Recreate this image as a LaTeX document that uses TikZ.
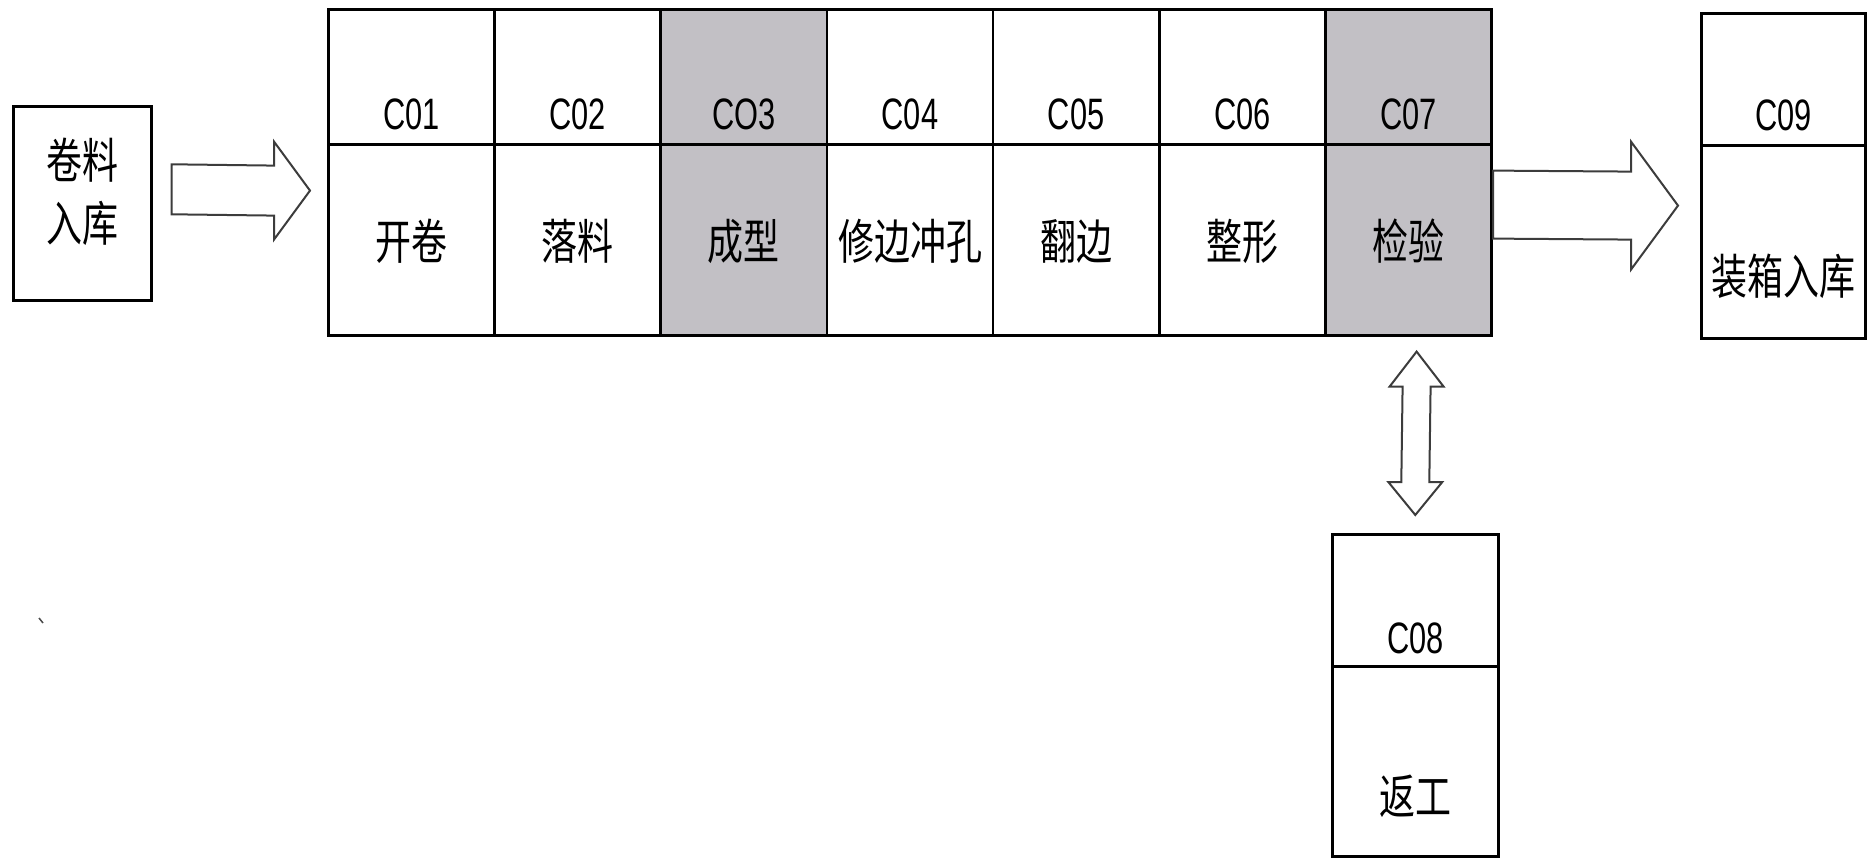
\documentclass[tikz,border=0pt]{standalone}
\usepackage{fontspec}
\setmainfont{Liberation Sans}
\newfontfamily\cjk[FakeStretch=0.75]{Noto Sans CJK SC}
\newfontfamily\codefont[FakeStretch=0.7]{Liberation Sans}
\usetikzlibrary{calc}
\definecolor{cellgray}{RGB}{194,192,197}
\definecolor{arrowline}{RGB}{60,60,60}
\begin{document}
\begin{tikzpicture}[x=1pt,y=-1pt,
  cell/.style={draw=black, line width=2.6pt, rectangle, inner sep=0pt, anchor=north west},
  codetxt/.style={anchor=base, inner sep=0pt, font=\codefont\fontsize{44pt}{44pt}\selectfont},
  cntxt/.style={anchor=base, inner sep=0pt, font=\cjk\fontsize{48pt}{48pt}\selectfont},
  blockarrow/.style={draw=arrowline, fill=white, line width=2pt, line join=miter}]
\useasboundingbox (0,0) rectangle (1869,858);

% left box
\node[cell, minimum width=138pt, minimum height=194pt] (in) at (12,105) {};
\node[cntxt, anchor=center, align=center, font=\cjk\fontsize{48pt}{63pt}\selectfont] (intxt) at ($(in.north)+(0,87)$) {卷料\\入库};

% main table
\foreach \i/\code/\name/\col in {1/C01/开卷/white, 2/C02/落料/white, 3/CO3/成型/cellgray, 4/C04/修边冲孔/white, 5/C05/翻边/white, 6/C06/整形/white, 7/C07/检验/cellgray}{
  \node[cell, fill=\col, minimum width=166.2pt, minimum height=135pt] (t\i) at ({327+(\i-1)*166.2}, 8) {};
  \node[cell, fill=\col, minimum width=166.2pt, minimum height=191pt] (b\i) at ({327+(\i-1)*166.2}, 143) {};
  \node[codetxt] (tc\i) at ($(t\i.south)+(0,-16)$) {\code};
  \node[cntxt] (bc\i) at ($(b\i.center)+(0,20)$) {\name};
}

% C09
\node[cell, minimum width=164pt, minimum height=132pt] (t9) at (1700,12) {};
\node[cell, minimum width=164pt, minimum height=193pt] (b9) at (1700,144) {};
\node[codetxt] (tc9) at ($(t9.south)+(0,-16)$) {C09};
\node[cntxt] (bc9) at ($(b9.center)+(0,53)$) {装箱入库};

% C08
\node[cell, minimum width=166pt, minimum height=132pt] (t8) at (1331,533) {};
\node[cell, minimum width=166pt, minimum height=190pt] (b8) at (1331,665) {};
\node[codetxt] (tc8) at ($(t8.south)+(0,-14)$) {C08};
\node[cntxt] (bc8) at ($(b8.center)+(0,53)$) {返工};

% left block arrow
\coordinate (L0) at ($(in.east)+(19,-14)$);
\coordinate (L1) at ($(t1.south west)+(-17,45)$);
\draw[blockarrow] ($(L0)+(0,-25)$) -- ($(L1)+(-36,-25)$) -- ($(L1)+(-36,-49)$) -- (L1)
  -- ($(L1)+(-36,49)$) -- ($(L1)+(-36,25)$) -- ($(L0)+(0,25)$) -- cycle;

% right block arrow
\coordinate (R0) at ($(t7.south east)+(0,59)$);
\coordinate (R1) at ($(t9.south west)+(-22,59)$);
\draw[blockarrow] ($(R0)+(0,-34)$) -- ($(R1)+(-47,-34)$) -- ($(R1)+(-47,-64)$) -- (R1)
  -- ($(R1)+(-47,64)$) -- ($(R1)+(-47,34)$) -- ($(R0)+(0,34)$) -- cycle;

% vertical double arrow
\coordinate (V0) at ($(b7.south)+(8,15)$);
\coordinate (V1) at ($(t8.north)+(0,-18)$);
\draw[blockarrow] (V0) -- ($(V0)+(27,35)$) -- ($(V0)+(14,35)$) -- ($(V1)+(14,-33)$) -- ($(V1)+(27,-33)$)
  -- (V1) -- ($(V1)+(-27,-33)$) -- ($(V1)+(-14,-33)$) -- ($(V0)+(-14,35)$) -- ($(V0)+(-27,35)$) -- cycle;

% stray mark
\draw[line width=1.5pt, black!70] (39,618) -- (43,623);
\end{tikzpicture}
\end{document}
